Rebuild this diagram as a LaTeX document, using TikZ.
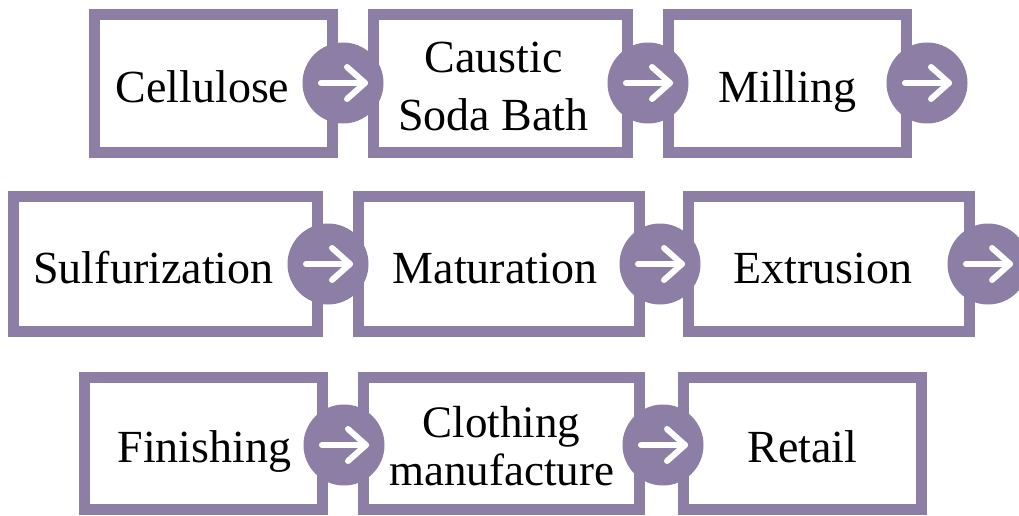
\documentclass[tikz,border=0pt]{standalone}
\usepackage{fontspec}
\setmainfont{Liberation Serif}
\usepackage{tikz}
\usetikzlibrary{positioning, calc}
\definecolor{stagepurple}{RGB}{141, 126, 166}

\tikzset{
    stage/.style={draw=stagepurple, line width=11pt, fill=white, rectangle, inner sep=0pt},
    stagelabel/.style={inner sep=0pt, align=center, font=\fontsize{46}{58}\selectfont},
    pointer/.style={circle, fill=stagepurple, minimum size=81pt, inner sep=0pt},
    pointerline/.style={white, line width=6pt, line cap=round, line join=round}
}

\newcommand{\pointerarrow}[1]{%
    \draw[pointerline] ($(#1)+(-22,0)$) -- ($(#1)+(22,0)$);
    \draw[pointerline] ($(#1)+(4,-16)$) -- ($(#1)+(22,0)$) -- ($(#1)+(4,16)$);
}

\begin{document}
\begin{tikzpicture}[x=1pt, y=-1pt]
        \useasboundingbox (0,0) rectangle (1019,516);

        % Top row
        \node[stage, minimum width=238pt, minimum height=138pt] (cellulose) at (213.5,83.5) {};
        \node[stage, minimum width=254pt, minimum height=138pt] (caustic) at (500.5,83.5) {};
        \node[stage, minimum width=238pt, minimum height=138pt] (milling) at (787.5,83.5) {};

        % Middle row
        \node[stage, minimum width=304pt, minimum height=135pt] (sulfurization) at (165.5,264) {};
        \node[stage, minimum width=281pt, minimum height=135pt] (maturation) at (499,264) {};
        \node[stage, minimum width=281pt, minimum height=135pt] (extrusion) at (829,264) {};

        % Bottom row
        \node[stage, minimum width=238pt, minimum height=132pt] (finishing) at (203.5,443.5) {};
        \node[stage, minimum width=276pt, minimum height=132pt] (clothing) at (501.5,443.5) {};
        \node[stage, minimum width=238pt, minimum height=132pt] (retail) at (802.5,443.5) {};

        % Labels
        \node[stagelabel, anchor=base] (cellulose-text) at ($(cellulose)+(-11,19)$) {Cellulose};
        \node[stagelabel] (caustic-text) at ($(caustic)+(-7,3)$) {Caustic\\Soda Bath};
        \node[stagelabel, anchor=base] (milling-text) at ($(milling)+(0,19)$) {Milling};
        \node[stagelabel, anchor=base] (sulfurization-text) at ($(sulfurization)+(-12,19)$) {Sulfurization};
        \node[stagelabel, anchor=base] (maturation-text) at ($(maturation)+(-4,19)$) {Maturation};
        \node[stagelabel, anchor=base] (extrusion-text) at ($(extrusion)+(-6,19)$) {Extrusion};
        \node[stagelabel, anchor=base] (finishing-text) at ($(finishing)+(1,19)$) {Finishing};
        \node[stagelabel, font=\fontsize{45}{48}\selectfont] (clothing-text) at ($(clothing)+(0,3)$) {Clothing\\manufacture};
        \node[stagelabel, anchor=base] (retail-text) at ($(retail)+(0,19)$) {Retail};

        % Arrow circles
        \node[pointer] (p1) at (343,83) {};
        \node[pointer] (p2) at (648,83) {};
        \node[pointer] (p3) at (927,83) {};
        \node[pointer] (p4) at (328,264) {};
        \node[pointer] (p5) at (660,264) {};
        \node[pointer] (p6) at (988,264) {};
        \node[pointer] (p7) at (344,445) {};
        \node[pointer] (p8) at (663,445) {};

        \foreach \p in {p1,p2,p3,p4,p5,p6,p7,p8}{
            \pointerarrow{\p}
        }
    \end{tikzpicture}
\end{document}
